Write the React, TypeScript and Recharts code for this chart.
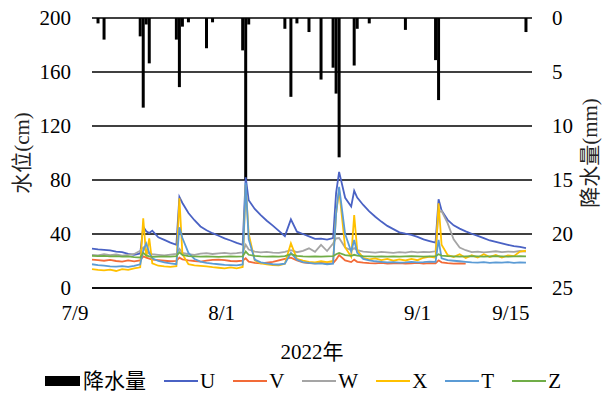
import React from 'react';
import {
  ComposedChart,
  Line,
  Bar,
  XAxis,
  YAxis,
  CartesianGrid,
  Legend,
} from 'recharts';

// days since 7/9 (extra half-day rows around the flood peaks)
const days = [
  0, 1, 2, 3, 4, 5, 6, 7, 8,
  8.5, 9, 9.5, 10,
  11, 12, 13, 14,
  14.5, 15,
  16, 17, 18, 19, 20, 21, 22, 23, 24, 25,
  25.5, 26,
  27, 28, 29, 30, 31, 32,
  33,
  34, 35, 36, 37, 38, 39, 40,
  40.5, 41, 42, 43, 43.5, 44,
  45, 46, 47, 48, 49, 50, 51, 52, 53, 54, 55, 56, 57,
  57.5, 58,
  59, 60, 61, 62, 63, 64, 65, 66, 67, 68, 69, 70, 71, 72,
];

// 降水量 (mm)
const rain = [
  0, 0.5, 2.0, 0, 0, 0, 0, 0, 1.7,
  8.3, 0.6, 4.2, 0,
  0, 0, 0, 2.0,
  6.4, 0.8,
  0.4, 0, 0, 2.8, 0.4, 0, 0, 0, 0, 3.0,
  15.0, 0.6,
  0, 0, 0, 0, 0, 1.0,
  7.3,
  0.5, 0, 1.3, 0, 5.7, 0, 4.6,
  7.0, 12.9, 0, 0, 4.4, 1.0,
  0, 0.5, 0, 0, 0, 0, 0, 1.1, 0, 0, 0, 0, 3.9,
  7.6, 0,
  0, 0, 0, 0, 0, 0, 0, 0, 0, 0, 0, 0, 0, 1.3,
];

// 水位 (cm)
const seriesU = [
  29.2, 28.6, 28.3, 27.9, 27.0, 26.6, 25.2, 24.6, 25.6,
  45.4, 42.0, 40.7, 42.5,
  37.5, 35.6, 33.6, 32.0,
  67.5, 63.0,
  55.5, 50.2, 45.6, 42.8, 40.6, 38.7, 36.8, 35.2, 33.4, 32.0,
  82.0, 65.0,
  58.6, 54.0, 49.8, 46.2, 42.3, 38.4,
  50.8,
  41.7, 40.0, 38.2, 36.4, 36.6, 35.8, 37.0,
  70.5, 86.0, 66.8, 60.4, 72.0, 67.0,
  61.5, 56.8, 52.8, 49.2, 46.0, 43.6, 41.2, 40.2, 39.4, 37.9, 36.0, 34.8, 33.7,
  65.7, 57.5,
  50.5, 46.4, 44.0, 42.0, 40.2, 38.6, 37.0, 35.2, 34.1, 33.0, 32.0, 31.0, 30.4, 29.6,
];

const seriesV = [
  21.0, 20.6, 20.2, 20.8, 20.0, 19.6, 20.4, 19.8, 20.5,
  23.5, 22.5, 21.8, 21.0,
  20.6, 20.2, 19.8, 20.1,
  22.5, 21.2,
  20.5, 20.0, 19.6, 20.2, 20.8, 21.0, 20.6, 20.0, 19.8, 20.2,
  22.0, 19.5,
  18.6, 18.2, 18.8, 19.4, 20.5, 21.6,
  22.5,
  20.5, 19.0, 18.4, 18.2, 18.6, 18.0, 18.4,
  21.0, 24.4, 20.5, 19.2, 21.0, 19.4,
  18.8, 18.4, 18.2, 18.6, 18.0, 18.3, 18.5, 18.0, 18.2, 18.6, 18.1, 18.4, 18.2,
  20.5, 19.0,
  18.4, 18.0, 18.3, 18.1, null, null, null, null, null, null, null, null, null, null,
];

const seriesW = [
  24.6, 24.2, 25.0, 24.4, 24.8, 24.0, 24.6, 25.2, 27.5,
  30.0, 27.0, 25.5, 25.0,
  24.6, 24.2, 24.8, 25.2,
  29.0, 26.0,
  25.0, 24.6, 25.4, 25.8, 25.2, 25.6, 26.0, 25.4, 25.8, 26.4,
  32.0, 28.5,
  27.0, 26.4, 26.8, 26.2, 26.0, 26.8,
  28.0,
  26.5, 27.5, 29.4, 26.8, 31.9, 27.4, 33.0,
  36.8, 37.0, 30.0, 28.0, 29.5, 28.0,
  27.0, 26.6, 26.2, 26.8, 26.4, 26.0, 26.6, 26.2, 27.0, 26.4, 26.8, 26.6, 27.2,
  56.0, 57.0,
  48.0, 36.0, 30.0, 28.0, 26.6, 27.0, 26.4, 26.8, 27.2, 26.6, 27.0, 26.8, 27.4, 27.0,
];

const seriesX = [
  14.0, 13.4, 13.0, 13.6, 12.6, 14.0, 13.4, 14.6, 15.3,
  51.6, 23.0, 36.8, 18.3,
  16.5, 16.0, 15.6, 16.2,
  66.4, 25.0,
  17.6, 16.8, 16.4, 16.0, 15.4, 15.0, 14.6, 15.2, 14.6, 15.6,
  76.3, 40.0,
  20.5, 18.3, 17.6, 17.0, 16.8, 18.0,
  33.1,
  21.5, 20.2, 19.4, 19.0, 19.8, 19.2, 20.0,
  55.0, 72.6, 30.0, 23.2, 54.0, 28.0,
  22.4, 21.2, 22.0, 20.6, 21.6, 20.2, 21.2, 20.4, 21.6, 20.6, 22.4, 23.2, 22.4,
  62.7, 32.0,
  24.4, 23.0, 25.0, 22.2, 24.2, 22.6, 25.0, 23.0, 24.4, 22.6, 24.2, 23.6, 27.0, 27.6,
];

const seriesT = [
  17.6, 17.0, 16.6, 16.0, 15.8, 16.2, 15.6, 16.4, 17.5,
  28.0, 33.0, 26.0, 22.0,
  20.0, 19.0, 18.2, 17.6,
  45.0, 37.0,
  26.0, 21.5, 19.6, 18.6, 18.0, 17.6, 17.2, 17.0, 16.8, 17.4,
  78.0, 36.0,
  21.0, 19.0, 18.2, 17.6, 17.4, 18.0,
  26.0,
  21.0, 19.2, 18.6, 18.0, 18.2, 17.6, 18.0,
  55.0, 75.0, 40.0, 27.0, 35.6, 26.0,
  21.5, 20.4, 19.8, 19.4, 19.0, 19.2, 18.8, 19.0, 19.4, 19.0, 19.2, 19.6, 19.4,
  35.6, 22.0,
  20.6, 20.2, 19.8, 19.4, 19.0, 18.8, 19.2, 18.6, 19.0, 18.8, 19.2, 18.6, 19.0, 18.8,
];

const seriesZ = [
  23.8, 23.6, 23.8, 23.4, 23.6, 23.2, 23.4, 22.8, 22.6,
  26.0, 24.2, 23.4, 23.0,
  23.2, 23.4, 23.2, 23.6,
  26.5, 24.5,
  23.6, 23.4, 23.2, 23.4, 23.2, 23.0, 23.2, 23.4, 23.2, 23.4,
  27.0, 24.6,
  23.8, 23.4, 23.2, 23.4, 23.2, 23.6,
  25.0,
  23.8, 23.4, 23.2, 23.4, 23.2, 23.4, 23.6,
  25.0, 26.0, 24.4, 23.8, 24.6, 24.0,
  23.6, 23.4, 23.2, 23.4, 23.2, 23.4, 23.2, 23.4, 23.6, 23.4, 23.2, 23.4, 23.6,
  25.0, 24.0,
  23.6, 23.4, 23.2, 23.4, 23.6, 23.4, 23.2, 23.4, 23.6, 23.4, 23.2, 23.4, 23.6, 23.4,
];

const levelTicks = [0, 40, 80, 120, 160, 200];
const rainTicks = [0, 5, 10, 15, 20, 25];
const tickDays = [0, 23, 54, 68];
const tickLabels = ['7/9', '8/1', '9/1', '9/15'];
const tickShift = [-17, -9, 0, 9];

const lines = [
  { key: 'U', color: '#4A62C4' },
  { key: 'V', color: '#F26B38' },
  { key: 'W', color: '#A5A5A5' },
  { key: 'X', color: '#FFC000' },
  { key: 'T', color: '#5B9BD5' },
  { key: 'Z', color: '#70AD47' },
];

const data = days.map((t, i) => ({
  t,
  rain: rain[i],
  U: seriesU[i],
  V: seriesV[i],
  W: seriesW[i],
  X: seriesX[i],
  T: seriesT[i],
  Z: seriesZ[i],
}));

const FONT = '"Liberation Serif", "Times New Roman", Tinos, "DejaVu Serif", "Noto Sans CJK SC", serif';

function DateTick(props: any) {
  const { x, y, payload } = props;
  const i = tickDays.indexOf(payload.value);
  return (
    <text x={x + (tickShift[i] || 0)} y={y + 32} textAnchor="middle" fontSize={21} fill="#000" fontFamily={FONT}>
      {tickLabels[i]}
    </text>
  );
}

function VerticalTitle({ x, y, text }: { x: number; y: number; text: string }) {
  return (
    <text
      transform={`translate(${x},${y}) rotate(-90)`}
      textAnchor="middle"
      dominantBaseline="central"
      fontSize={21}
      fill="#222"
      fontFamily={FONT}
    >
      {text}
    </text>
  );
}

function LegendRow() {
  return (
    <div
      style={{
        display: 'flex',
        justifyContent: 'center',
        alignItems: 'center',
        height: 26,
        lineHeight: '26px',
        fontSize: 21,
        fontFamily: FONT,
        paddingLeft: 14,
        color: '#000',
      }}
    >
      <span style={{ display: 'inline-block', width: 35, height: 10, background: '#000', marginRight: 3 }} />
      <span style={{ marginRight: 18 }}>降水量</span>
      {lines.map((l) => (
        <React.Fragment key={l.key}>
          <span style={{ display: 'inline-block', width: 34, height: 2, background: l.color, marginRight: 2 }} />
          <span style={{ marginRight: 18 }}>{l.key}</span>
        </React.Fragment>
      ))}
    </div>
  );
}

export default function App() {
  return (
    <div style={{ position: 'absolute', left: 0, top: 0, width: 610, height: 400, fontFamily: FONT, background: '#fff' }}>
      <ComposedChart
        width={610}
        height={400}
        data={data}
        margin={{ top: 18, right: 0, bottom: 6, left: 0 }}
        style={{ fontFamily: FONT }}
      >
        <CartesianGrid yAxisId="left" vertical={false} stroke="#000" strokeWidth={1.5} />
        <XAxis
          dataKey="t"
          type="number"
          domain={[0, 73]}
          ticks={tickDays}
          tick={<DateTick />}
          tickLine={false}
          tickSize={0}
          tickMargin={0}
          height={80}
          axisLine={{ stroke: '#000', strokeWidth: 1.5 }}
          label={{ value: '2022年', position: 'insideBottom', offset: 9, fill: '#000', fontSize: 21, fontFamily: FONT }}
        />
        <YAxis
          yAxisId="left"
          domain={[0, 200]}
          ticks={levelTicks}
          width={92}
          axisLine={false}
          tickLine={false}
          tickSize={0}
          tickMargin={21}
          tick={{ fill: '#000', fontSize: 21, fontFamily: FONT }}
          label={(p: any) => <VerticalTitle x={22} y={p.viewBox.y + p.viewBox.height / 2} text="水位(cm)" />}
        />
        <YAxis
          yAxisId="right"
          orientation="right"
          domain={[0, 25]}
          reversed
          ticks={rainTicks}
          width={78}
          axisLine={false}
          tickLine={false}
          tickSize={0}
          tickMargin={20}
          tick={{ fill: '#000', fontSize: 21, fontFamily: FONT }}
          label={(p: any) => <VerticalTitle x={590} y={p.viewBox.y + p.viewBox.height / 2} text="降水量(mm)" />}
        />
        <Bar yAxisId="right" dataKey="rain" fill="#000" barSize={3} isAnimationActive={false} />
        {lines.map((l) => (
          <Line
            key={l.key}
            yAxisId="left"
            type="linear"
            dataKey={l.key}
            stroke={l.color}
            strokeWidth={1.8}
            dot={false}
            activeDot={false}
            isAnimationActive={false}
          />
        ))}
        <Legend verticalAlign="bottom" content={() => <LegendRow />} wrapperStyle={{ left: 0, width: 610 }} />
      </ComposedChart>
    </div>
  );
}
